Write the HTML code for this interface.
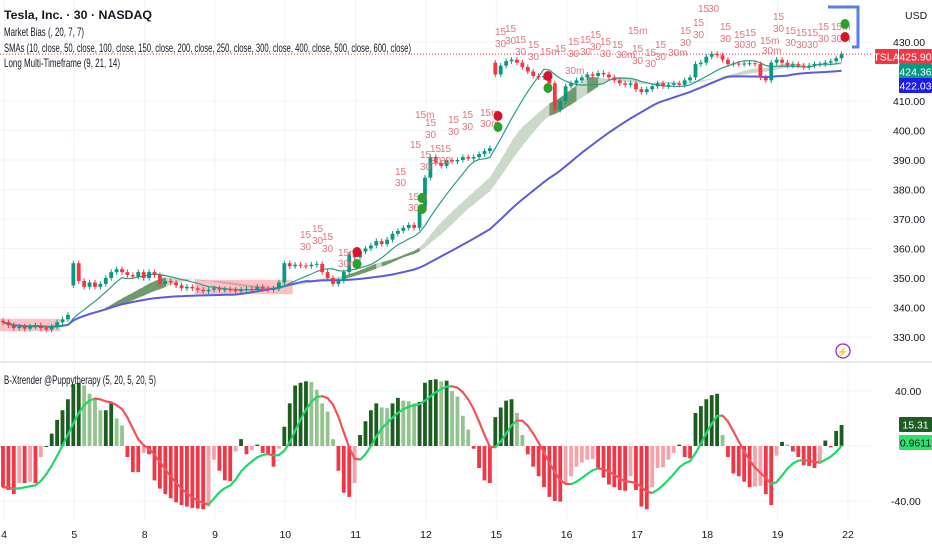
<!DOCTYPE html>
<html><head><meta charset="utf-8"><style>
html,body{margin:0;padding:0;background:#fff;}
svg{display:block;font-family:"Liberation Sans",sans-serif;}
</style></head><body>
<svg id="c" width="932" height="550" viewBox="0 0 932 550" xmlns="http://www.w3.org/2000/svg">
<g id="grid"></g>
<g id="price"></g>
<g id="osc"></g>
<g id="axes"></g>
<g fill="#131722" font-size="12">
<text x="4" y="19" font-weight="bold" textLength="148" lengthAdjust="spacingAndGlyphs">Tesla, Inc. · 30 · NASDAQ</text>
<text x="4" y="36" textLength="80" lengthAdjust="spacingAndGlyphs">Market Bias (, 20, 7, 7)</text>
<text x="4" y="52" textLength="407" lengthAdjust="spacingAndGlyphs">SMAs (10, close, 50, close, 100, close, 150, close, 200, close, 250, close, 300, close, 400, close, 500, close, 600, close)</text>
<text x="4" y="67" textLength="116" lengthAdjust="spacingAndGlyphs">Long Multi-Timeframe (9, 21, 14)</text>
<text x="4" y="384" textLength="152" lengthAdjust="spacingAndGlyphs">B-Xtrender @Puppytherapy (5, 20, 5, 20, 5)</text>
</g>
</svg>
<script>
const dayLabels = ["4","5","8","9","10","11","12","15","16","17","18","19","22"];
const priceTicks = [430,410,400,390,380,370,360,350,340,330];
const oscTicks = [40,-40];
const gapOpens = {13:347.5, 91:423};
const closes = [
335,334,333,333.5,332.8,333.5,334,333,332.5,333.5,335,336,337.5,
355,349,347,348.5,347,348,350,352,353,352,351,350.5,352,
350,352,351,348,349,348.5,347.5,346.5,347,346.5,346,345.5,346,
346.5,346,346.2,346,345.5,346,346.3,346,347,346.5,346,346.5,348.5,
355,354,354.5,354.2,354,354.5,354.8,352,350,348,349,352,358,
357,359,360,361,362.5,361.5,363,365,366,367,368,367,374,
384,391,389,388,390,389.5,390,391,390.5,391,392,393,394,
419,422,423.5,424,423,421.5,420,418.5,418,418.5,416,407,410,
415,416,417,418,419,418.5,419.5,419,418,417,416,415.5,416,
414,413,414,415,416,415,415.5,416,415.5,417,418,422.5,423,
425,426,425.5,424,422.5,422.7,422.5,422.7,422.8,422.5,418,417,423,
424,423,422,422.5,422,421.5,422,422.5,422.5,423,423.5,424.5,425.9];
const hist = [
-30,-32,-35,-27,-27,-26,-27,-8,0,9,19,26,34,
45,46,44,38,34,26,26,31,20,15,-8,-19,-19,
-5,-6,-25,-31,-35,-38,-41,-43,-44,-45,-45.5,-46,-44,
-10,-18,-25,-25.5,-4,5,-6,-3,1,-5,-5.5,-15,-2,
14,31,44,46,47,46.5,41,31,25,5,-18,-34,-37,
-27,8,18,26,31,28,27.5,31,35,33,32.5,31,32,
46,48,48.5,47,47.5,40,36,22,12,-2,-16,-25,-27,
21,28,33,34,24,8,-6,-15,-22,-30,-37,-40,-40.5,
-28,-22,-15,-12,-10,-9.5,-16,-23,-28,-30,-32,-32.5,-22,
-32,-44,-46,-30,-16,-15.5,-10,-5,1,-8,-9,24,29,
34,37,38,8,-8,-20,-22,-26,-30,-29.5,-29,-35,-43,
-7,3,1,-4,-8,-14,-14.5,-16,-12,4,-1,11,15.31];
const biasRanges = [[0,10],[36,53]];

const NS="http://www.w3.org/2000/svg";
const X0=3, DX=5.41, PLOT_R=872;
const xb=i=>X0+i*DX;
const py=p=>42+(430-p)*2.95;
const oy=v=>446-v*1.375;
function mk(tag,attrs,parent){const e=document.createElementNS(NS,tag);for(const k in attrs)e.setAttribute(k,attrs[k]);parent.appendChild(e);return e;}
const G=document.getElementById('grid'),P=document.getElementById('price'),O=document.getElementById('osc'),A=document.getElementById('axes');

priceTicks.forEach(t=>{const l=mk('line',{x1:0,x2:PLOT_R,y1:py(t),y2:py(t),stroke:'#f0f3fa'},G);

});
oscTicks.concat([0]).forEach(t=>{const l=mk('line',{x1:0,x2:PLOT_R,y1:oy(t),y2:oy(t),stroke:'#f0f3fa'},G);

});
dayLabels.forEach((d,k)=>{const x=X0+1+k*13*DX;const l=mk('line',{x1:x,x2:x,y1:0,y2:520,stroke:'#f0f3fa'},G);

});
const sep=mk('line',{x1:0,x2:932,y1:362,y2:362,stroke:'#e0e3eb','stroke-width':1.5},G);



function sma(n){return closes.map((c,i)=>{const s=closes.slice(Math.max(0,i-n+1),i+1);return s.reduce((a,b)=>a+b,0)/s.length;});}
const ma10=sma(10), maUp=sma(18), maLo=sma(23), maLong=sma(44);

for(let i=1;i<closes.length;i++){
 const slope=((maUp[i]+maLo[i])-(maUp[i-1]+maLo[i-1]))/2;
 const poly=mk('polygon',{points:`${xb(i-1)},${py(maUp[i-1])} ${xb(i)+0.5},${py(maUp[i])} ${xb(i)+0.5},${py(maLo[i])} ${xb(i-1)},${py(maLo[i-1])}`,fill:(slope>0.5&&slope<1.3)?'#6f9a6d':'#ccd8c9'},P);
 
 
}
biasRanges.forEach(r=>{const s=ma10.slice(r[0],r[1]+1);const hi=Math.max(...s)+1.2,lo=Math.min(...s)-1.5;
 const rc=mk('rect',{x:xb(r[0])-3,y:py(hi),width:xb(r[1])-xb(r[0])+6,height:py(lo)-py(hi),fill:'#f23645',opacity:0.3},P);
 
 });

function linePath(arr,f){return arr.map((v,i)=>(i?'L':'M')+xb(i).toFixed(1)+','+f(v).toFixed(1)).join(' ');}
const blue=mk('path',{d:linePath(maLong,py),fill:'none',stroke:'#5b5bdc','stroke-width':2},P);


const teal=mk('path',{d:linePath(ma10,py),fill:'none',stroke:'#2a9d84','stroke-width':1.2},P);



closes.forEach((c,i)=>{
 const o=(i in gapOpens)?gapOpens[i]:(i?closes[i-1]:c+0.5);
 const up=c>=o, col=up?'#089981':'#f23645';
 const hi=Math.max(o,c)+0.9, lo=Math.min(o,c)-0.9, x=xb(i);
 const w=mk('line',{x1:x,x2:x,y1:py(hi),y2:py(lo),stroke:col,'stroke-width':1},P);
 
 
 const b=mk('rect',{x:x-1.9,y:py(Math.max(o,c)),width:3.8,height:Math.max(1,Math.abs(py(o)-py(c))),fill:col},P);
 
 
});

const lp=mk('line',{x1:0,x2:PLOT_R,y1:py(closes[closes.length-1]),y2:py(closes[closes.length-1]),stroke:'#f23645','stroke-dasharray':'1,2','stroke-width':1},P);



const notes=[[300,238,'15'],[300,250,'30'],[312,232,'15'],[312,244,'30'],[322,240,'15'],[322,252,'30'],[338,256,'15m'],[338,267,'30m'],
[395,175,'15'],[395,186,'30'],[408,200,'15m'],[408,211,'30m'],[410,148,'15'],[420,158,'15'],[420,170,'30'],[430,152,'15'],[430,164,'30'],[440,152,'15'],[440,164,'30'],
[415,118,'15m'],[425,126,'15'],[425,138,'30'],[448,123,'15'],[448,135,'30'],[462,118,'15'],[462,130,'30'],[480,116,'15m'],[480,127,'30m'],
[495,35,'15'],[495,47,'30'],[505,32,'15'],[505,44,'30'],[515,43,'15'],[515,55,'30'],[528,48,'15'],[528,60,'30'],[540,55,'15m'],[555,52,'15'],[565,74,'30m'],
[568,45,'15'],[568,57,'30'],[580,43,'15'],[580,55,'30'],[590,38,'15'],[590,50,'30'],[600,45,'15'],[600,57,'30'],[612,48,'15'],[616,58,'30m'],[628,34,'15m'],[632,52,'15'],[632,64,'30'],
[645,56,'15'],[645,67,'30'],[655,48,'15'],[655,60,'30'],[668,56,'30m'],[680,34,'15'],[680,46,'30'],[693,26,'15'],[693,38,'30'],[698,12,'15'],[708,12,'30'],[720,30,'15'],[720,42,'30'],
[734,38,'15'],[734,48,'30'],[745,36,'15'],[745,48,'30'],[760,44,'15m'],[762,54,'30m'],[773,20,'15'],[773,32,'30'],[785,34,'15'],[785,46,'30'],[796,36,'15'],[796,48,'30'],[807,36,'15'],[807,48,'30'],[818,30,'15'],[818,42,'30'],[831,30,'15m'],[831,42,'30m']];
notes.forEach(n=>{const t=mk('text',{x:n[0],y:n[1],fill:'#e5737d','font-size':10},P);t.textContent=n[2];
 
 });
const dots=[[357,252,'#d9142a'],[357,264,'#2ca02c'],[422,198,'#2ca02c'],[422,209,'#2ca02c'],[498,116,'#d9142a'],[498,127,'#2ca02c'],[548,76,'#d9142a'],[548,88,'#2ca02c'],[845,24,'#2ca02c'],[845,37,'#d9142a']];
dots.forEach(d=>{const c=mk('ellipse',{cx:d[0],cy:d[1],rx:4.5,ry:5,fill:d[2]},P);
 
 });
const br=mk('path',{d:'M828,7 L858,7 L858,47 L852,47',fill:'none',stroke:'#5b7ee5','stroke-width':3},P);



hist.forEach((v,i)=>{
 const prev=i?hist[i-1]:v; let col;
 if(v>=0) col=v>=prev?'#1b5e20':'#93c48f'; else col=v<=prev?'#f23645':'#f7a1a8';
 const y1=oy(Math.max(v,0)),y2=oy(Math.min(v,0));
 const r=mk('rect',{x:xb(i)-1.9,y:y1,width:3.8,height:Math.max(1,y2-y1),fill:col},O);
 
 
});
let e1=hist[0],e2=hist[0];const sig=hist.map(v=>{e1+=0.38*(v-e1);e2+=0.38*(e1-e2);return e2;});
for(let i=1;i<sig.length;i++){
 const s=mk('line',{x1:xb(i-1),y1:oy(sig[i-1]),x2:xb(i),y2:oy(sig[i]),stroke:sig[i]>=sig[i-1]?'#22d66a':'#f4515a','stroke-width':2.2,'stroke-linecap':'round'},O);
 
 
}

function txt(x,y,s,opt,name,par){const t=mk('text',Object.assign({x:x,y:y,'font-size':10.5,fill:'#131722'},opt||{}),par||A);t.textContent=s;
 
 return t;}
txt(905,19,'USD',{},'currency-label');
priceTicks.forEach(t=>txt(893,py(t)+4,t.toFixed(2),{},'price-tick'));
oscTicks.forEach(t=>txt(t<0?891:895,oy(t)+4,t.toFixed(2),{},'osc-tick'));
dayLabels.forEach((d,k)=>txt(X0+1+k*13*DX,538,d,{'text-anchor':'middle'},'date-tick'));
function tag(x,y,w,fill,s,col,name){const r=mk('rect',{x:x,y:y,width:w,height:15,fill:fill,rx:1},A);
 
 
 txt(x+w/2,y+11.5,s,{'text-anchor':'middle',fill:col},name);}
tag(875,49,23,'#f23645','TSLA','#fff','symbol-tag');
tag(899,49,33,'#f23645','425.90','#fff','last-price-tag');
tag(899,64,33,'#089981','424.36','#fff','sma10-tag');
tag(899,78,33,'#1c1cf0','422.03','#fff','sma-long-tag');
tag(899,417,33,'#1b5e20','15.31','#fff','histogram-tag');
tag(899,435,33,'#2ee06e','0.9611','#131722','signal-tag');
const bolt=mk('circle',{cx:843,cy:351,r:7,fill:'none',stroke:'#9c27b0','stroke-width':1.3},A);


txt(843,355,'⚡',{'text-anchor':'middle',fill:'#9c27b0','font-size':9},'lightning-icon');
</script>
</body></html>
